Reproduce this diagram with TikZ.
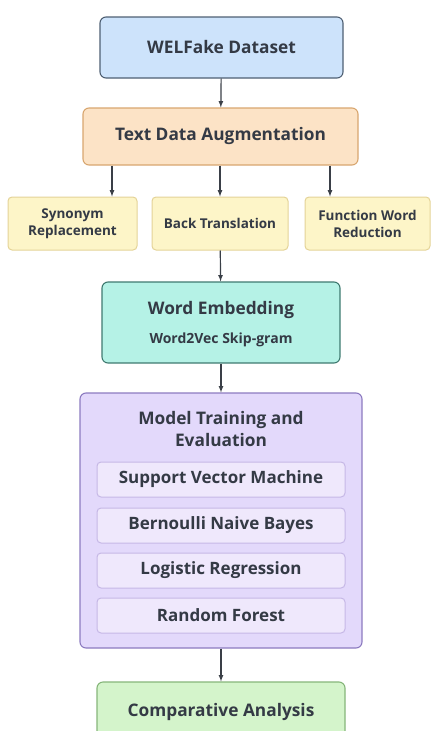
\documentclass[tikz,border=0pt]{standalone}
\usepackage{fontspec}
\setmainfont{Open Sans}
\usetikzlibrary{calc}

\definecolor{txtcol}{HTML}{343A45}
\definecolor{arrcol}{HTML}{3A3F47}
\definecolor{bluefill}{HTML}{CDE3FB}
\definecolor{blueline}{HTML}{4E5F73}
\definecolor{peachfill}{HTML}{FCE3C6}
\definecolor{peachline}{HTML}{D8A66F}
\definecolor{yelfill}{HTML}{FDF5C8}
\definecolor{yelline}{HTML}{E4D398}
\definecolor{tealfill}{HTML}{B5F2E6}
\definecolor{tealline}{HTML}{3F7A70}
\definecolor{lavfill}{HTML}{E3D9FB}
\definecolor{lavline}{HTML}{8C7BC0}
\definecolor{innerfill}{HTML}{EFE8FC}
\definecolor{innerline}{HTML}{C6B8E6}
\definecolor{greenfill}{HTML}{D4F4CB}
\definecolor{greenline}{HTML}{86B67A}

\tikzset{
	stage/.style = {draw, rounded corners = 6pt, line width = 1.1pt, text = txtcol, align = center,
		inner sep = 0pt, font = \bfseries\fontsize{17.3}{22}\selectfont},
	subtask/.style = {draw = yelline, fill = yelfill, rounded corners = 4pt, line width = 1pt, text = txtcol,
		align = center, inner sep = 0pt, minimum height = 53pt, font = \bfseries\fontsize{13.5}{17}\selectfont},
	model/.style = {draw = innerline, fill = innerfill, rounded corners = 4pt, line width = 1pt, text = txtcol,
		inner sep = 0pt, minimum width = 248pt, minimum height = 35pt, font = \bfseries\fontsize{17}{20}\selectfont},
	arr/.style = {-latex, draw = arrcol, line width = 1.2pt}
}

\begin{document}
\begin{tikzpicture}[x = 1pt, y = -1pt]

	\useasboundingbox (0,0) rectangle (431,731);
	\clip (0,0) rectangle (431,731);

	\node (data)[stage, draw = blueline, fill = bluefill, minimum width = 243pt, minimum height = 61pt] at (221.5,47.5) {WELFake Dataset};
	\node (aug)[stage, draw = peachline, fill = peachfill, minimum width = 275pt, minimum height = 57pt] at (220.5,136.5) {Text Data Augmentation};

	\node (syn)[subtask, minimum width = 129pt] at (72.5,223.5) {Synonym\\Replacement};
	\node (back)[subtask, minimum width = 136pt] at (220,223.5) {Back Translation};
	\node (func)[subtask, minimum width = 125pt] at (367.5,223.5) {Function Word\\Reduction};

	\node (emb)[stage, draw = tealline, fill = tealfill, minimum width = 238pt, minimum height = 81pt] at (221,322.5) {};
	\node (embt)[text = txtcol, font = \bfseries\fontsize{17.3}{21}\selectfont] at (221,310) {Word Embedding};
	\node (embs)[text = txtcol, font = \bfseries\fontsize{14}{17}\selectfont] at (221,340) {Word2Vec Skip-gram};

	\node (train)[stage, draw = lavline, fill = lavfill, minimum width = 282pt, minimum height = 255pt] at (221,520.5) {};
	\node (traint)[text = txtcol, align = center, font = \bfseries\fontsize{17.3}{22}\selectfont] at (221,429) {Model Training and\\Evaluation};
	\node (svm)[model] at (221,479.5) {Support Vector Machine};
	\node (bnb)[model] at (221,525.5) {Bernoulli Naive Bayes};
	\node (lr)[model] at (221,570.5) {Logistic Regression};
	\node (rf)[model] at (221,615.5) {Random Forest};

	\node (comp)[stage, draw = greenline, fill = greenfill, minimum width = 248pt, minimum height = 60pt] at (221,712) {Comparative Analysis};

	\draw [arr](data)--(aug);
	\draw [arr](aug.south -| 112,0)--(syn.north -| 112,0);
	\draw [arr](aug.south -| back.north)--(back);
	\draw [arr](aug.south -| 330,0)--(func.north -| 330,0);
	\draw [arr](back)--(emb);
	\draw [arr](emb)--(train);
	\draw [arr](train)--(comp);
\end{tikzpicture}
\end{document}
